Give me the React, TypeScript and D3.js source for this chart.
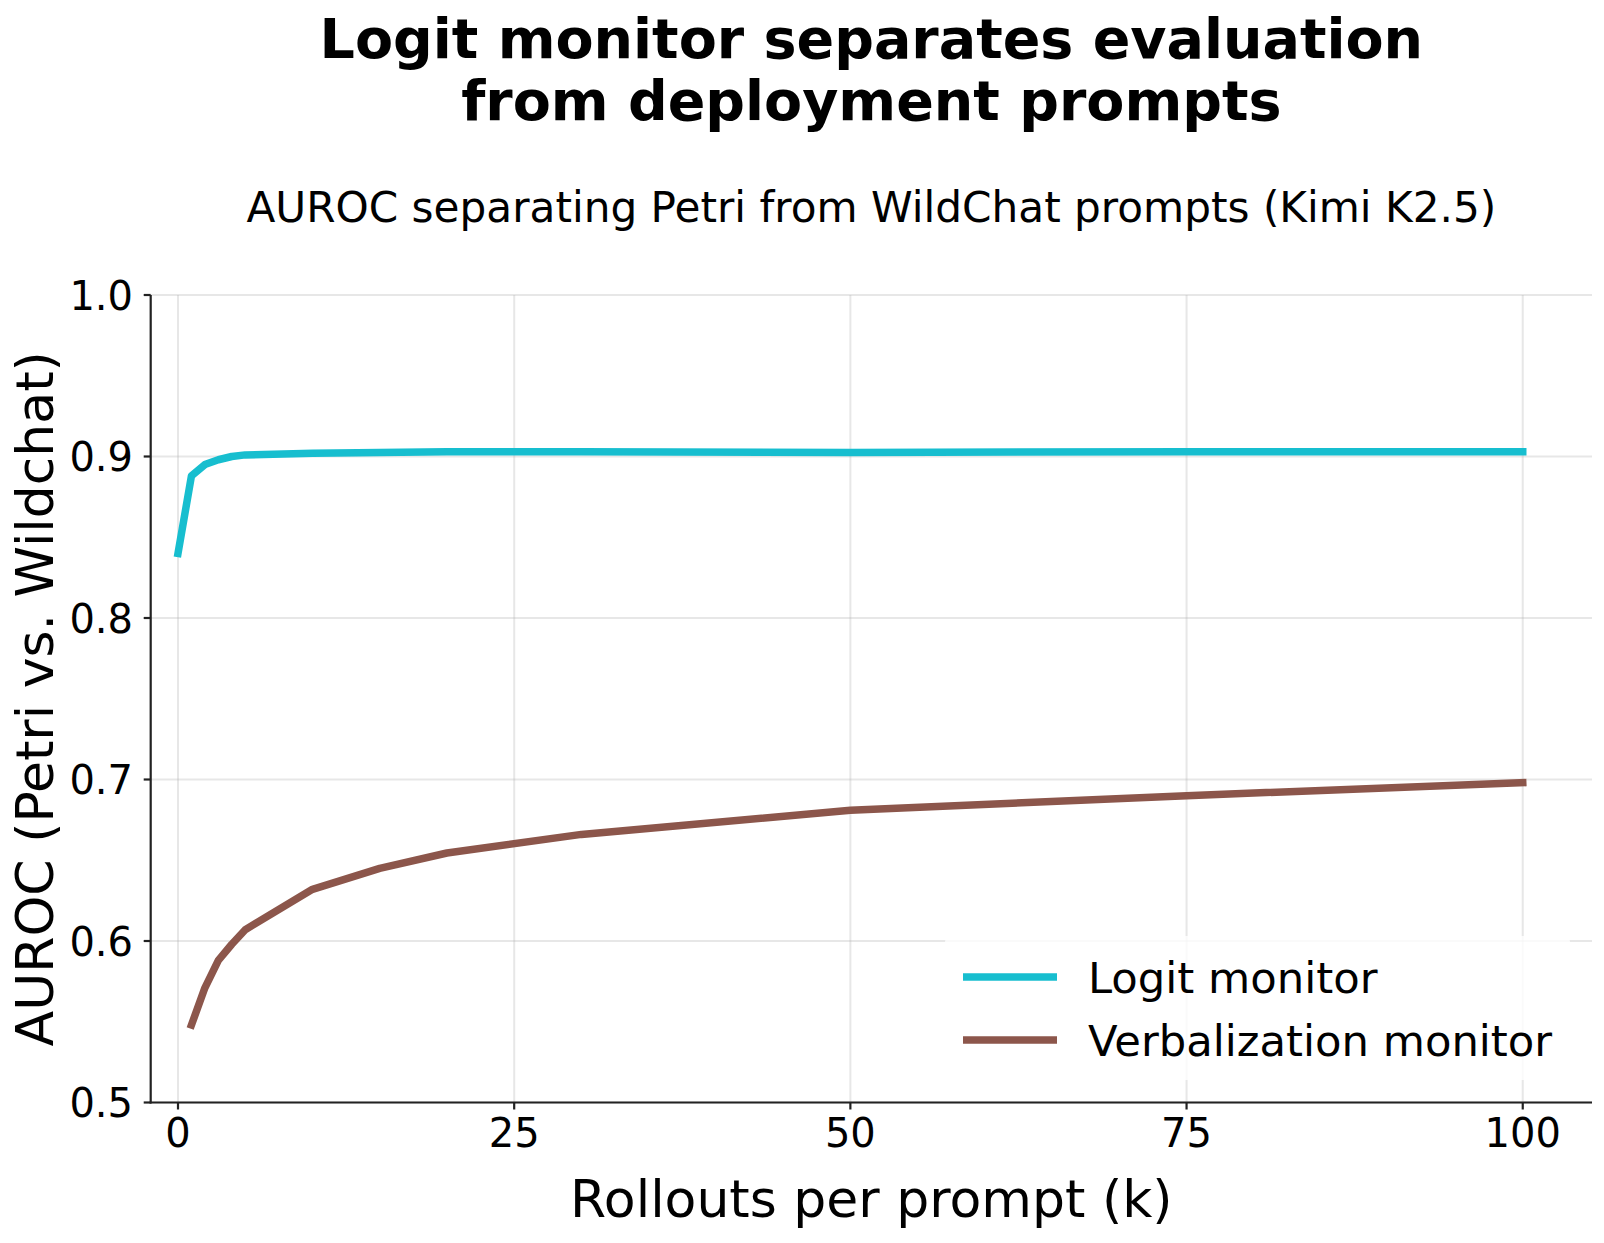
import * as d3 from 'd3';
import React from 'react';

// rollouts per prompt (k)
const logitK = [0, 1, 2, 3, 4, 5, 10, 15, 20, 30, 50, 75, 100];
const logitAuroc = [0.840, 0.888, 0.895, 0.898, 0.900, 0.901, 0.902, 0.9025, 0.903, 0.903, 0.9025, 0.903, 0.903];

const verbK = [1, 2, 3, 4, 5, 10, 15, 20, 30, 50, 75, 100];
const verbAuroc = [0.548, 0.571, 0.588, 0.598, 0.607, 0.632, 0.645, 0.6545, 0.666, 0.681, 0.690, 0.698];

const xTicks = [0, 25, 50, 75, 100];
const yTicks = [0.5, 0.6, 0.7, 0.8, 0.9, 1.0];

const seriesNames = ['Logit monitor', 'Verbalization monitor'];
const seriesColors = ['#17becf', '#8c564b'];

const W = 1604;
const H = 1243;
const FONT = 'DejaVu Sans, sans-serif';

const App: React.FC = () => {
  // plot area
  const left = 150.7;
  const right = 1592;
  const top = 295;
  const bottom = 1102.5;

  const x = d3.scaleLinear().domain([-2.03, 105.15]).range([left, right]);
  const y = d3.scaleLinear().domain([0.5, 1.0]).range([bottom, top]);

  const line = d3
    .line<[number, number]>()
    .x((d) => x(d[0]))
    .y((d) => y(d[1]));

  const series = [
    logitK.map((k, i) => [k, logitAuroc[i]] as [number, number]),
    verbK.map((k, i) => [k, verbAuroc[i]] as [number, number]),
  ];

  const cx = (left + right) / 2;
  const cy = (top + bottom) / 2;

  // legend
  const legRows = [977, 1040];
  const legHandleX0 = 963;
  const legHandleX1 = 1057;
  const legTextX = 1088;

  return (
    <svg
      width={W}
      height={H}
      style={{ position: 'absolute', left: 0, top: 0, background: '#fff' }}
      fontFamily={FONT}
    >
      <rect width={W} height={H} fill="#fff" />

      {/* titles */}
      <text x={cx} y={58.3} textAnchor="middle" fontSize={55.5} fontWeight="bold">
        Logit monitor separates evaluation
      </text>
      <text x={cx} y={120} textAnchor="middle" fontSize={55.5} fontWeight="bold">
        from deployment prompts
      </text>
      <text x={cx} y={222} textAnchor="middle" fontSize={42.2}>
        AUROC separating Petri from WildChat prompts (Kimi K2.5)
      </text>

      {/* grid */}
      <g stroke="#b0b0b0" strokeOpacity={0.3} strokeWidth={2}>
        {xTicks.map((t) => (
          <line key={'gx' + t} x1={x(t)} x2={x(t)} y1={top} y2={bottom} />
        ))}
        {yTicks.map((t) => (
          <line key={'gy' + t} x1={left} x2={right} y1={y(t)} y2={y(t)} />
        ))}
      </g>

      {/* lines */}
      {series.map((s, i) => (
        <path
          key={seriesNames[i]}
          d={line(s) ?? ''}
          fill="none"
          stroke={seriesColors[i]}
          strokeWidth={7.5}
          strokeLinejoin="round"
          strokeLinecap="square"
        />
      ))}

      {/* spines */}
      <line x1={left} x2={left} y1={top} y2={bottom + 1} stroke="#222" strokeWidth={2.2} />
      <line x1={left - 1} x2={right} y1={bottom} y2={bottom} stroke="#222" strokeWidth={2.2} />

      {/* x ticks */}
      {xTicks.map((t) => (
        <g key={'xt' + t}>
          <line x1={x(t)} x2={x(t)} y1={bottom} y2={bottom + 7} stroke="#222" strokeWidth={2.2} />
          <text x={x(t)} y={1147.3} textAnchor="middle" fontSize={40}>
            {t}
          </text>
        </g>
      ))}

      {/* y ticks */}
      {yTicks.map((t) => (
        <g key={'yt' + t}>
          <line x1={left - 7} x2={left} y1={y(t)} y2={y(t)} stroke="#222" strokeWidth={2.2} />
          <text x={133} y={y(t) + 14.6} textAnchor="end" fontSize={40}>
            {d3.format('.1f')(t)}
          </text>
        </g>
      ))}

      {/* axis labels */}
      <text x={cx} y={1217.3} textAnchor="middle" fontSize={52}>
        Rollouts per prompt (k)
      </text>
      <text
        transform={`translate(53.3,${cy}) rotate(-90)`}
        textAnchor="middle"
        fontSize={52}
      >
        AUROC (Petri vs. Wildchat)
      </text>

      {/* legend */}
      <rect x={945} y={936} width={625} height={144} rx={6} fill="#fff" fillOpacity={0.8} />
      {seriesNames.map((name, i) => (
        <g key={'leg' + name}>
          <line
            x1={legHandleX0}
            x2={legHandleX1}
            y1={legRows[i]}
            y2={legRows[i]}
            stroke={seriesColors[i]}
            strokeWidth={7.5}
          />
          <text x={legTextX} y={legRows[i] + 16} fontSize={43.3}>
            {name}
          </text>
        </g>
      ))}
    </svg>
  );
};

export default App;
